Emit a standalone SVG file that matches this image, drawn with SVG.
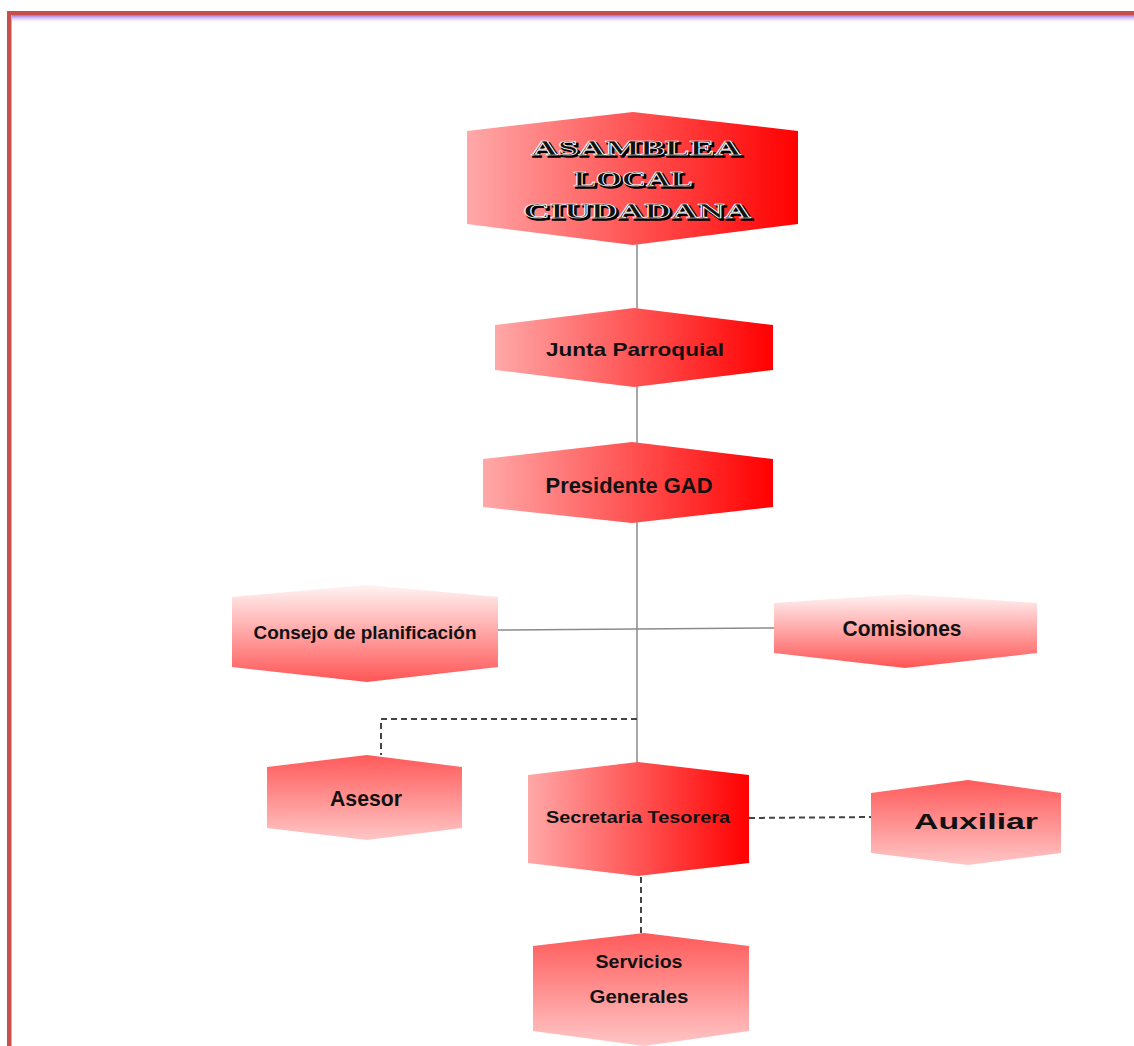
<svg xmlns="http://www.w3.org/2000/svg" width="1134" height="1046" viewBox="0 0 1134 1046">
<defs>
<linearGradient id="gh" x1="0" y1="0" x2="1" y2="0"><stop offset="0" stop-color="#ffa8a8"/><stop offset="1" stop-color="#ff0000"/></linearGradient>
<linearGradient id="gvUp" x1="0" y1="0" x2="0" y2="1"><stop offset="0" stop-color="#fff4f4"/><stop offset="1" stop-color="#ff5555"/></linearGradient>
<linearGradient id="gvDown" x1="0" y1="0" x2="0" y2="1"><stop offset="0" stop-color="#ff5a5a"/><stop offset="1" stop-color="#ffc6c6"/></linearGradient>
<linearGradient id="topfade" x1="0" y1="0" x2="0" y2="1"><stop offset="0" stop-color="#9a6ee0"/><stop offset="1" stop-color="#f4ecff" stop-opacity="0"/></linearGradient>
</defs>
<style>
.lbl{font-family:"Liberation Sans","DejaVu Sans",sans-serif;font-weight:bold;fill:#111;text-anchor:middle}
.deco{font-family:"Liberation Serif","DejaVu Serif",serif;font-weight:bold;text-anchor:middle;font-size:22px}
.solid{stroke:#8a8a8a;stroke-width:1.5;fill:none}
.dash{stroke:#444;stroke-width:2;stroke-dasharray:6 4;fill:none}
</style>
<rect x="0" y="0" width="1134" height="1046" fill="#ffffff"/>
<rect x="7" y="15" width="1127" height="8" fill="url(#topfade)"/>
<rect x="7" y="11" width="1127" height="4" fill="#c8504c"/>
<rect x="7" y="11" width="4" height="1035" fill="#c8504c"/>
<rect x="11" y="15" width="1" height="1031" fill="#f0a0a0"/>

<g id="connectors">
<line class="solid" x1="637" y1="244" x2="637" y2="309"/>
<line class="solid" x1="637" y1="386" x2="637" y2="443"/>
<line class="solid" x1="637" y1="522" x2="637" y2="763"/>
<line class="solid" x1="498" y1="630" x2="774" y2="628"/>
<polyline class="dash" points="637,719 381,719 381,755"/>
<line class="dash" x1="749" y1="818" x2="871" y2="817"/>
<line class="dash" x1="641" y1="867" x2="641" y2="933"/>
</g>

<g id="asamblea">
<path d="M467,131 L633,112 L798,131 L798,224 L633,245 L467,224 Z" fill="url(#gh)"/>
<g class="deco" fill="#000" stroke="#000" stroke-width="1.5" transform="translate(2,2)">
<text x="636" y="155" textLength="210" lengthAdjust="spacingAndGlyphs">ASAMBLEA</text>
<text x="633" y="186" textLength="119" lengthAdjust="spacingAndGlyphs">LOCAL</text>
<text x="637" y="218" textLength="228" lengthAdjust="spacingAndGlyphs">CIUDADANA</text>
</g>
<g class="deco" fill="#111" stroke="#ffffff" stroke-width="0.7">
<text x="636" y="155" textLength="210" lengthAdjust="spacingAndGlyphs">ASAMBLEA</text>
<text x="633" y="186" textLength="119" lengthAdjust="spacingAndGlyphs">LOCAL</text>
<text x="637" y="218" textLength="228" lengthAdjust="spacingAndGlyphs">CIUDADANA</text>
</g>
</g>

<g id="junta">
<path d="M495,325 L634,308 L773,325 L773,370 L634,387 L495,370 Z" fill="url(#gh)"/>
<text class="lbl" x="635" y="356" font-size="19" textLength="178" lengthAdjust="spacingAndGlyphs">Junta Parroquial</text>
</g>

<g id="presidente">
<path d="M483,459 L632,442 L773,459 L773,507 L632,523 L483,507 Z" fill="url(#gh)"/>
<text class="lbl" x="629" y="493" font-size="22" textLength="167" lengthAdjust="spacingAndGlyphs">Presidente GAD</text>
</g>

<g id="consejo">
<path d="M232,597 L367,585 L498,597 L498,667 L367,682 L232,667 Z" fill="url(#gvUp)"/>
<text class="lbl" x="365" y="639" font-size="18" textLength="223" lengthAdjust="spacingAndGlyphs">Consejo de planificación</text>
</g>

<g id="comisiones">
<path d="M774,603 L905,594 L1037,603 L1037,653 L905,668 L774,653 Z" fill="url(#gvUp)"/>
<text class="lbl" x="902" y="636" font-size="22" textLength="119" lengthAdjust="spacingAndGlyphs">Comisiones</text>
</g>

<g id="asesor">
<path d="M267,767 L367,755 L462,767 L462,828 L367,840 L267,828 Z" fill="url(#gvDown)"/>
<text class="lbl" x="366" y="806" font-size="22" textLength="72" lengthAdjust="spacingAndGlyphs">Asesor</text>
</g>

<g id="secretaria">
<path d="M528,775 L638,762 L749,775 L749,863 L638,876 L528,863 Z" fill="url(#gh)"/>
<text class="lbl" x="638" y="823" font-size="17" textLength="184" lengthAdjust="spacingAndGlyphs">Secretaria Tesorera</text>
</g>

<g id="auxiliar">
<path d="M871,793 L968,780 L1061,793 L1061,853 L968,865 L871,853 Z" fill="url(#gvDown)"/>
<text class="lbl" x="976" y="829" font-size="22" textLength="124" lengthAdjust="spacingAndGlyphs">Auxiliar</text>
</g>

<g id="servicios">
<path d="M533,946 L644,933 L749,946 L749,1031 L644,1046 L533,1031 Z" fill="url(#gvDown)"/>
<text class="lbl" x="639" y="968" font-size="19" textLength="87" lengthAdjust="spacingAndGlyphs">Servicios</text>
<text class="lbl" x="639" y="1003" font-size="19" textLength="99" lengthAdjust="spacingAndGlyphs">Generales</text>
</g>
</svg>
